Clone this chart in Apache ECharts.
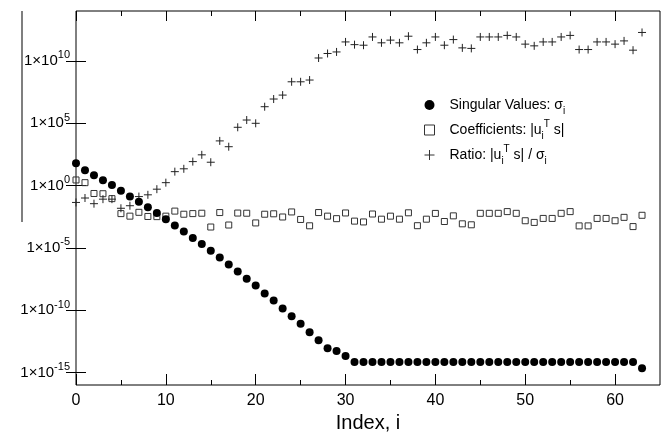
<!DOCTYPE html>
<html>
<head>
<meta charset="utf-8">
<script src="https://cdn.jsdelivr.net/npm/echarts@6/dist/echarts.min.js"></script>
<style>
  html, body { margin: 0; padding: 0; background: #fff; }
  #chart { width: 661px; height: 432px; }
</style>
</head>
<body>
<div id="chart"></div>
<script>
// singular values sigma_i
const sigma = [
  6.2e1, 1.7e1, 6.8e0, 2.7e0, 1.1e0, 3.8e-1, 1.3e-1, 5.0e-2, 1.8e-2, 6.3e-3,
  2.0e-3, 6.3e-4, 2.1e-4, 6.2e-5, 2.0e-5, 5.9e-6, 1.7e-6, 4.6e-7, 1.3e-7, 3.3e-8,
  9.5e-9, 2.2e-9, 6.0e-10, 1.4e-10, 3.3e-11, 8.1e-12, 1.7e-12, 3.8e-13, 8.7e-14, 5.4e-14,
  2.1e-14, 7.1e-15, 7.1e-15, 7.1e-15, 7.1e-15, 7.1e-15, 7.1e-15, 7.1e-15, 7.1e-15, 7.1e-15,
  7.1e-15, 7.1e-15, 7.1e-15, 7.1e-15, 7.1e-15, 7.1e-15, 7.1e-15, 7.1e-15, 7.1e-15, 7.1e-15,
  7.1e-15, 7.1e-15, 7.1e-15, 7.1e-15, 7.1e-15, 7.1e-15, 7.1e-15, 7.1e-15, 7.1e-15, 7.1e-15,
  7.1e-15, 7.1e-15, 7.1e-15, 2.2e-15
]

// coefficients |u_i^T s|
const coeffs = [
  2.8e0, 1.7e0, 2.3e-1, 2.2e-1, 8.9e-2, 5.6e-3, 3.5e-3, 7.1e-3, 3.3e-3, 3.2e-3,
  3.5e-3, 8.9e-3, 5.0e-3, 5.6e-3, 6.0e-3, 4.7e-4, 6.8e-3, 6.8e-4, 6.2e-3, 6.0e-3,
  1.0e-3, 5.0e-3, 5.4e-3, 3.0e-3, 7.6e-3, 1.9e-3, 5.9e-4, 6.8e-3, 3.5e-3, 2.2e-3,
  6.3e-3, 1.4e-3, 1.2e-3, 5.2e-3, 2.0e-3, 3.5e-3, 2.0e-3, 6.5e-3, 6.0e-4, 2.0e-3,
  5.8e-3, 1.3e-3, 3.7e-3, 8.5e-4, 7.1e-4, 5.9e-3, 5.9e-3, 5.9e-3, 8.1e-3, 5.9e-3,
  1.5e-3, 1.1e-3, 2.3e-3, 2.3e-3, 5.9e-3, 8.1e-3, 5.8e-4, 5.8e-4, 2.3e-3, 2.3e-3,
  1.5e-3, 2.8e-3, 5.1e-4, 4.1e-3
]

// ratio |u_i^T s| / sigma_i
const ratio = [
  4.4e-2, 1.0e-1, 3.5e-2, 8.1e-2, 8.1e-2, 1.5e-2, 2.4e-2, 1.3e-1, 1.8e-1, 5.1e-1,
  1.7e0, 1.3e1, 2.2e1, 8.3e1, 2.9e2, 7.4e1, 3.8e3, 1.3e3, 4.7e4, 1.8e5,
  9.8e4, 2.1e6, 8.7e6, 1.8e7, 2.1e8, 2.1e8, 2.9e8, 1.7e10, 3.9e10, 5.2e10,
  3.3e11, 2.0e11, 1.8e11, 8.3e11, 2.8e11, 4.6e11, 2.8e11, 9.5e11, 8.1e10, 2.8e11,
  8.3e11, 1.8e11, 5.1e11, 1.1e11, 1.0e11, 8.3e11, 8.3e11, 8.3e11, 1.1e12, 8.3e11,
  2.2e11, 1.6e11, 3.3e11, 3.3e11, 8.3e11, 1.1e12, 8.1e10, 8.1e10, 3.3e11, 3.3e11,
  2.2e11, 4.0e11, 7.2e10, 1.9e12
]

const xMajorTicks = [0, 10, 20, 30, 40, 50, 60]
const xMinorTicks = [5, 15, 25, 35, 45, 55]
const yTicks = [1e-15, 1e-10, 1e-5, 1e0, 1e5, 1e10]
const seriesNames = ['Singular Values: σ', 'Coefficients: |u', 'Ratio: |u']

const FONT = '"Liberation Sans", Arial, sans-serif'
const plusPath = 'path://M0,5L10,5M5,0L5,10'

const chart = echarts.init(document.getElementById('chart'), null, { renderer: 'canvas' })

// 把数据转换成 [index, value]
const toPairs = arr => arr.map((v, i) => [i, v])

const xAxisBase = {
  type: 'value',
  min: 0,
  max: 65,
  gridIndex: 0,
  splitLine: { show: false },
  axisLine: { show: false }
}

const yAxisBase = {
  type: 'log',
  logBase: 10,
  min: 1e-16,
  max: 1e14,
  splitLine: { show: false },
  axisLine: { show: false }
}

const legendLabel = {
  'Singular Values: σ': '{n|Singular Values: σ}{sub|i}',
  'Coefficients: |u': '{n|Coefficients: |u}{sub|i}{sup|T}{n| s|}',
  'Ratio: |u': '{n|Ratio: |u}{sub|i}{sup|T}{n| s| / σ}{sub|i}'
}

chart.setOption({
  backgroundColor: '#fff',
  animation: false,
  textStyle: { fontFamily: FONT },
  grid: {
    left: 76, right: 1, top: 11, bottom: 47,
    outerBoundsMode: 'none',
    containLabel: false,
    show: true, borderColor: '#000', borderWidth: 1
  },
  graphic: [{
    type: 'line',
    shape: { x1: 22, y1: 11, x2: 22, y2: 222 },
    style: { stroke: '#555', lineWidth: 1.5 }
  }],
  legend: {
    orient: 'vertical',
    left: 419,
    top: 93,
    itemGap: 3,
    itemWidth: 10,
    itemHeight: 10,
    formatter: name => legendLabel[name],
    textStyle: {
      fontFamily: FONT,
      color: '#000',
      padding: [0, 0, 0, 10],
      rich: {
        n: { fontSize: 14, lineHeight: 22, color: '#000', fontFamily: FONT },
        sub: { fontSize: 10, lineHeight: 10, verticalAlign: 'bottom', color: '#000', fontFamily: FONT },
        sup: { fontSize: 10, lineHeight: 10, verticalAlign: 'top', color: '#000', fontFamily: FONT }
      }
    },
    data: [
      { name: seriesNames[0], icon: 'circle', itemStyle: { color: '#000' } },
      { name: seriesNames[1], icon: 'rect', itemStyle: { color: 'transparent', borderColor: '#333', borderWidth: 1 } },
      { name: seriesNames[2], icon: plusPath, itemStyle: { color: 'transparent', borderColor: '#333', borderWidth: 1 } }
    ]
  },
  xAxis: [
    {
      ...xAxisBase,
      position: 'bottom',
      name: 'Index, i',
      nameLocation: 'middle',
      nameGap: 28,
      nameMoveOverlap: false,
      nameTextStyle: { fontSize: 20, color: '#000', fontFamily: FONT },
      axisTick: { show: true, inside: true, length: 11, customValues: xMajorTicks, lineStyle: { color: '#000' } },
      axisLabel: { show: true, customValues: xMajorTicks, fontSize: 16, color: '#000', margin: 8, fontFamily: FONT }
    },
    {
      ...xAxisBase,
      position: 'bottom',
      axisTick: { show: true, inside: true, length: 5, customValues: xMinorTicks, lineStyle: { color: '#000' } },
      axisLabel: { show: false }
    },
    {
      ...xAxisBase,
      position: 'top',
      axisTick: { show: true, inside: true, length: 10, customValues: xMajorTicks, lineStyle: { color: '#000' } },
      axisLabel: { show: false }
    },
    {
      ...xAxisBase,
      position: 'top',
      axisTick: { show: true, inside: true, length: 5, customValues: xMinorTicks, lineStyle: { color: '#000' } },
      axisLabel: { show: false }
    }
  ],
  yAxis: [
    {
      ...yAxisBase,
      position: 'left',
      axisTick: { show: true, inside: true, length: 10, customValues: yTicks, lineStyle: { color: '#000' } },
      axisLabel: {
        show: true,
        customValues: yTicks,
        margin: 6,
        formatter: value => '{b|1×10}{s|' + Math.round(Math.log10(value)) + '}',
        rich: {
          b: { fontSize: 15, lineHeight: 22, color: '#000', fontFamily: FONT },
          s: { fontSize: 11, lineHeight: 11, verticalAlign: 'top', color: '#000', fontFamily: FONT }
        }
      }
    },
    {
      ...yAxisBase,
      position: 'right',
      axisTick: { show: true, inside: true, length: 10, customValues: yTicks, lineStyle: { color: '#000' } },
      axisLabel: { show: false }
    }
  ],
  series: [
    {
      name: seriesNames[1],
      type: 'scatter',
      xAxisIndex: 0,
      yAxisIndex: 0,
      symbol: 'rect',
      symbolSize: 6,
      itemStyle: { color: 'transparent', borderColor: '#333', borderWidth: 1, opacity: 1 },
      data: toPairs(coeffs)
    },
    {
      name: seriesNames[2],
      type: 'scatter',
      xAxisIndex: 0,
      yAxisIndex: 0,
      symbol: plusPath,
      symbolSize: 8,
      itemStyle: { color: 'transparent', borderColor: '#222', borderWidth: 1, opacity: 1 },
      data: toPairs(ratio)
    },
    {
      name: seriesNames[0],
      type: 'scatter',
      xAxisIndex: 0,
      yAxisIndex: 0,
      symbol: 'circle',
      symbolSize: 8,
      itemStyle: { color: '#000', opacity: 1 },
      data: toPairs(sigma)
    }
  ]
})
</script>
</body>
</html>
